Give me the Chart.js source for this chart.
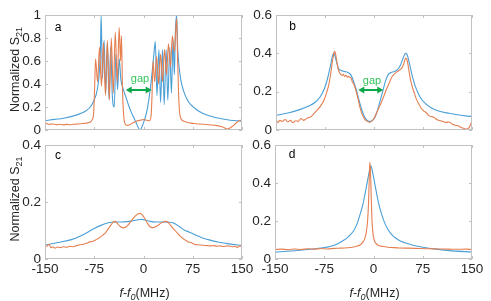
<!DOCTYPE html>
<html>
<head>
<meta charset="utf-8">
<title>Normalized S21</title>
<script src="https://cdn.jsdelivr.net/npm/chart.js@4.4.1/dist/chart.umd.min.js"></script>
<style>
  html, body { margin:0; padding:0; background:#fff; }
  #fig { position:relative; width:491px; height:301px; }
  #fig canvas { position:absolute; left:0; top:0; }
</style>
</head>
<body>
<div id="fig">
  <canvas id="chartA" width="491" height="301"></canvas>
  <canvas id="chartB" width="491" height="301"></canvas>
  <canvas id="chartC" width="491" height="301"></canvas>
  <canvas id="chartD" width="491" height="301"></canvas>
</div>
<script>
"use strict"

// shared axis ticks
const xTicks = [-150, -75, 0, 75, 150]
const xTickLabels = ['-150', '-75', '0', '75', '150']
const yTicksA = [0, 0.2, 0.4, 0.6, 0.8, 1]
const yTicksB = [0, 0.2, 0.4, 0.6]
const yTicksC = [0, 0.2, 0.4]
const yTicksD = [0, 0.2, 0.4, 0.6]

// panel a
const aFreqBlue = [-150,-135,-120,-105,-95,-87,-81,-76,-72,-69,-67,-65.5,-64.5,
  -62.5,-60,-57.5,-55,-52.5,-50,-47.5,-44.5,-42,-39.5,-37,-34.5,
  -31,-27,-23,-19,-15,-11,-7,-5,-3,1,5,9,12,14.5,16.5,18,
  20.5,23.5,26,29,31.5,34.5,37,40,42.5,45,47,48.5,50.5,
  52,54,57,61,66,72,80,90,105,125,150]
const aBlue = [0.082,0.092,0.105,0.125,0.145,0.17,0.2,0.25,0.31,0.4,0.52,0.72,1.0,
  0.45,0.78,0.32,0.76,0.27,0.72,0.3,0.2,0.66,0.35,0.62,0.44,
  0.36,0.29,0.22,0.16,0.11,0.06,0.01,0.0,0.02,0.08,0.16,0.3,0.44,0.58,0.7,0.77,
  0.3,0.7,0.24,0.7,0.22,0.7,0.26,0.72,0.32,0.78,0.48,0.85,1.0,
  0.72,0.56,0.43,0.34,0.27,0.22,0.18,0.145,0.115,0.092,0.075]
const aFreqOrange = [-150,-147,-143,-138,-133,-128,-122,-117,-112,-106,-100,-95,-90,-85,-81,-78,-76,-74.5,-73,
  -70,-67,-64,-61,-58,-55,-52,-49,-46,-43,-40,-37,-35,-33.5,
  -32,-30.5,-29,-27,-24,-20,-15,-10,-5,0,5,9,11.5,13,14.5,
  17,20,23,26,29,32,35,38,41,44,47,50.5,
  52,53.5,55,57,60,65,72,80,90,100,110,118,123,127,131,135,139,143,147,150]
const aOrange = [0.065,0.055,0.05,0.052,0.047,0.05,0.045,0.049,0.046,0.05,0.052,0.055,0.058,0.062,0.07,0.09,0.14,0.35,0.62,
  0.42,0.72,0.38,0.76,0.3,0.78,0.26,0.8,0.32,0.85,0.42,0.89,0.6,0.82,
  0.35,0.15,0.07,0.045,0.04,0.05,0.065,0.078,0.085,0.09,0.085,0.08,0.12,0.3,0.6,
  0.42,0.64,0.4,0.66,0.42,0.7,0.48,0.75,0.55,0.82,0.68,0.97,
  0.6,0.3,0.15,0.1,0.08,0.07,0.06,0.055,0.05,0.045,0.04,0.03,0.02,0.008,0.015,0.03,0.05,0.07,0.085,0.08]

// panel b
const bFreqBlue = [-150,-130,-115,-100,-90,-82,-76,-71,-67,-64,-62,-60,-57,-54,-50,-45,-40,-36,-33,-30,
  -27,-24,-20,-16,-12,-8,-5,-2,2,6,10,14,18,22,26,31,36,40,44,47,
  49,51,54,58,63,70,78,88,100,115,130,150]
const bBlue = [0.076,0.09,0.105,0.125,0.145,0.175,0.215,0.27,0.33,0.38,0.4,0.39,0.35,0.32,0.31,0.305,0.3,0.29,0.27,0.24,
  0.21,0.17,0.12,0.08,0.055,0.045,0.045,0.05,0.07,0.11,0.16,0.21,0.26,0.29,0.3,0.305,0.315,0.335,0.37,0.395,
  0.4,0.39,0.35,0.29,0.23,0.175,0.14,0.115,0.098,0.087,0.078,0.07]
const bFreqOrange = [-150,-147,-144,-140,-136,-132,-128,-124,-120,-116,-112,-108,-104,-100,-96,-92,-88,-84,-80,-76,
  -72,-69,-66,-64,-62,-60.5,-59,-57,-55,-53,-51,-49,-47,-45,-43,-41,-39,-37,-35,-33,
  -31,-28,-25,-22,-18,-14,-10,-7,-4,0,4,8,12,16,20,24,28,32,36,40,
  43,46,48.5,51,53,56,59,62,65,68,72,76,80,84,88,92,96,100,105,110,
  115,120,125,130,134,138,142,145,148,150]
const bOrange = [0.055,0.04,0.05,0.045,0.055,0.042,0.05,0.038,0.048,0.045,0.06,0.05,0.058,0.065,0.07,0.085,0.1,0.115,0.135,0.16,
  0.2,0.24,0.3,0.35,0.39,0.41,0.4,0.36,0.32,0.3,0.29,0.285,0.29,0.28,0.285,0.275,0.28,0.275,0.27,0.25,
  0.24,0.21,0.17,0.125,0.08,0.055,0.045,0.04,0.045,0.06,0.09,0.12,0.15,0.185,0.22,0.25,0.28,0.295,0.305,0.315,
  0.325,0.35,0.375,0.36,0.32,0.26,0.22,0.19,0.16,0.14,0.115,0.1,0.09,0.075,0.07,0.065,0.055,0.05,0.045,0.04,
  0.042,0.03,0.025,0.02,0.012,0.008,0.005,0.01,0.03,0.05]

// panel c
const cFreqBlue = [-150,-130,-110,-95,-85,-75,-65,-55,-45,-35,-25,-15,-8,-3,3,10,20,30,40,48,
  55,62,70,80,90,100,115,130,150]
const cBlue = [0.049,0.058,0.068,0.082,0.094,0.107,0.118,0.126,0.13,0.13,0.131,0.135,0.138,0.139,0.137,0.132,0.13,0.13,0.129,0.124,
  0.113,0.102,0.094,0.083,0.074,0.067,0.059,0.053,0.047]
const cFreqOrange = [-150,-147,-144,-141,-138,-135,-131,-127,-122,-117,-112,-107,-102,-97,-92,-87,-82,-77,-72,-67,
  -62,-58,-54,-50,-46,-43,-40,-36,-32,-28,-24,-20,-16,-12,-8,-5,-2,2,6,10,
  14,18,22,26,30,34,37,40,44,48,52,56,60,64,68,72,77,82,87,92,
  97,102,107,112,117,122,127,132,136,140,143,146,150]
const cOrange = [0.05,0.045,0.052,0.04,0.043,0.038,0.042,0.04,0.043,0.041,0.045,0.043,0.047,0.05,0.052,0.055,0.06,0.062,0.068,0.075,
  0.084,0.092,0.105,0.118,0.13,0.132,0.125,0.115,0.11,0.111,0.118,0.13,0.142,0.152,0.159,0.16,0.155,0.142,0.125,0.113,
  0.11,0.112,0.118,0.125,0.13,0.132,0.13,0.122,0.11,0.1,0.09,0.08,0.072,0.066,0.06,0.058,0.052,0.05,0.049,0.048,
  0.047,0.046,0.047,0.045,0.046,0.044,0.046,0.045,0.043,0.045,0.04,0.046,0.044]

// panel d
const dFreqBlue = [-150,-125,-100,-80,-66,-56,-46,-38,-31,-25,-20,-16,-13,-10,-7,-4,-1,2,5,8,
  12,17,23,30,38,48,60,75,95,120,150]
const dBlue = [0.036,0.042,0.05,0.058,0.066,0.078,0.097,0.118,0.145,0.185,0.24,0.29,0.34,0.395,0.45,0.49,0.45,0.395,0.34,0.29,
  0.24,0.19,0.15,0.12,0.1,0.085,0.072,0.062,0.052,0.043,0.037]
const dFreqOrange = [-150,-140,-130,-120,-110,-100,-90,-80,-70,-60,-50,-40,-32,-25,-20,-16,-13,-11,-9,-7.5,
  -6.5,-5.5,-4.5,-3.5,-2.5,-1,1,3,6,10,15,22,30,40,55,70,85,100,115,130,
  140,150]
const dOrange = [0.05,0.052,0.049,0.053,0.05,0.054,0.052,0.055,0.053,0.056,0.057,0.059,0.062,0.068,0.075,0.09,0.11,0.14,0.2,0.3,
  0.42,0.51,0.46,0.33,0.22,0.14,0.1,0.085,0.075,0.068,0.066,0.062,0.06,0.058,0.057,0.055,0.054,0.053,0.052,0.051,
  0.052,0.05]

const FONT = '"Liberation Sans", Arial, sans-serif'
const TEXT_COLOR = '#262626'
const BOX_COLOR = '#c2c2c2'
const BLUE = '#4a9fd6'
const ORANGE = '#e67f50'
const ARROW_COLOR = '#0fa64a'
const GAP_COLOR = '#35c45c'
const Y_TITLE = 'Normalized S'
const Y_SUB = '21'

function pairs(xs, ys){
    return xs.map((x, i) => ({x: x, y: ys[i]}))
}

// box, inner ticks, labels and annotations in MATLAB style
function framePlugin(p){
    return {
        id: 'frame',
        afterDatasetsDraw(chart){
            const ctx = chart.ctx
            const a = chart.chartArea
            const xs = chart.scales.x, ys = chart.scales.y
            ctx.save()
            ctx.strokeStyle = BOX_COLOR
            ctx.lineWidth = 1
            ctx.strokeRect(a.left + 0.5, a.top + 0.5, a.right - a.left - 1, a.bottom - a.top - 1)
            ctx.beginPath()
            xTicks.forEach(v => {
                const px = Math.round(xs.getPixelForValue(v)) + 0.5
                ctx.moveTo(px, a.bottom); ctx.lineTo(px, a.bottom - 3)
                ctx.moveTo(px, a.top); ctx.lineTo(px, a.top + 3)
            })
            p.yTicks.forEach(v => {
                const py = Math.round(ys.getPixelForValue(v)) + 0.5
                ctx.moveTo(a.left, py); ctx.lineTo(a.left + 3, py)
                ctx.moveTo(a.right, py); ctx.lineTo(a.right - 3, py)
            })
            ctx.stroke()

            // panel letter
            ctx.fillStyle = '#000'
            ctx.font = '12px ' + FONT
            ctx.textAlign = 'center'
            ctx.textBaseline = 'middle'
            ctx.fillText(p.letter, a.left + p.letterDx, a.top + p.letterDy)

            // gap arrow
            if (p.gap) {
                const g = p.gap
                const x1 = xs.getPixelForValue(g.from), x2 = xs.getPixelForValue(g.to)
                const yy = Math.round(ys.getPixelForValue(g.level))
                ctx.strokeStyle = ARROW_COLOR
                ctx.fillStyle = ARROW_COLOR
                ctx.lineWidth = 2
                ctx.beginPath(); ctx.moveTo(x1 + 4, yy); ctx.lineTo(x2 - 4, yy); ctx.stroke()
                ctx.beginPath(); ctx.moveTo(x1, yy); ctx.lineTo(x1 + 6, yy - 3.5); ctx.lineTo(x1 + 6, yy + 3.5); ctx.closePath(); ctx.fill()
                ctx.beginPath(); ctx.moveTo(x2, yy); ctx.lineTo(x2 - 6, yy - 3.5); ctx.lineTo(x2 - 6, yy + 3.5); ctx.closePath(); ctx.fill()
                ctx.fillStyle = GAP_COLOR
                ctx.font = '11px ' + FONT
                ctx.fillText('gap', xs.getPixelForValue(g.textX), ys.getPixelForValue(g.textY))
            }

            // y title with subscript
            if (p.yTitle) {
                ctx.save()
                ctx.translate(19, (a.top + a.bottom) / 2 - 3)
                ctx.rotate(-Math.PI / 2)
                ctx.font = '12.5px ' + FONT
                const w1 = ctx.measureText(Y_TITLE).width
                ctx.font = '9px ' + FONT
                const w2 = ctx.measureText(Y_SUB).width
                const x0 = -(w1 + w2) / 2
                ctx.fillStyle = TEXT_COLOR
                ctx.textAlign = 'left'
                ctx.textBaseline = 'alphabetic'
                ctx.font = '12.5px ' + FONT
                ctx.fillText(Y_TITLE, x0, 0)
                ctx.font = '9px ' + FONT
                ctx.fillText(Y_SUB, x0 + w1, 3)
                ctx.restore()
            }

            // x title f-f0(MHz)
            if (p.xTitle) {
                const parts = [
                    {t: 'f', f: 'italic 12.5px ', dy: 0},
                    {t: '-', f: '12.5px ', dy: 0},
                    {t: 'f', f: 'italic 12.5px ', dy: 0},
                    {t: '0', f: 'italic 9px ', dy: 3},
                    {t: '(MHz)', f: '12.5px ', dy: 0}
                ]
                let total = 0
                parts.forEach(q => { ctx.font = q.f + FONT; q.w = ctx.measureText(q.t).width; total += q.w })
                let cx = (a.left + a.right) / 2 + 1 - total / 2
                ctx.fillStyle = TEXT_COLOR
                ctx.textAlign = 'left'
                ctx.textBaseline = 'alphabetic'
                parts.forEach(q => {
                    ctx.font = q.f + FONT
                    ctx.fillText(q.t, cx, 297 + q.dy)
                    cx += q.w
                })
            }
            ctx.restore()
        }
    }
}

function drawPanel(id, box, p){
    const ctx = document.getElementById(id)
    const xHeight = p.showX ? 20 : 0
    return new Chart(ctx, {
        type: 'line',
        data: {
            datasets: [
                {label: 'experiment', data: pairs(p.fo, p.o), borderColor: ORANGE},
                {label: 'simulation', data: pairs(p.fb, p.b), borderColor: BLUE}
            ]
        },
        options: {
            responsive: false,
            animation: false,
            devicePixelRatio: 1,
            layout: {padding: {left: box.left - 40, top: box.top, right: 491 - box.right, bottom: 301 - box.bottom - xHeight}},
            elements: {
                point: {radius: 0},
                line: {borderWidth: 1.1, cubicInterpolationMode: 'monotone', fill: false}
            },
            plugins: {legend: {display: false}, tooltip: {enabled: false}},
            scales: {
                x: {
                    type: 'linear', min: -150, max: 150,
                    afterBuildTicks: s => { s.ticks = xTicks.map(v => ({value: v})) },
                    afterFit: s => { s.height = xHeight },
                    grid: {display: false, drawTicks: false}, border: {display: false},
                    ticks: {display: p.showX, padding: 2, color: TEXT_COLOR, autoSkip: false, maxRotation: 0,
                        font: {family: FONT, size: 13.5},
                        callback: (v, i) => xTickLabels[i]}
                },
                y: {
                    type: 'linear', min: 0, max: p.yTicks[p.yTicks.length - 1],
                    afterBuildTicks: s => { s.ticks = p.yTicks.map(v => ({value: v})) },
                    afterFit: s => { s.width = 40 },
                    grid: {display: false, drawTicks: false}, border: {display: false},
                    ticks: {padding: 4, color: TEXT_COLOR, font: {family: FONT, size: 13.5},
                        callback: v => String(v)}
                }
            }
        },
        plugins: [framePlugin(p)]
    })
}

drawPanel('chartA', {left: 45, top: 15, right: 242, bottom: 130}, {
    fb: aFreqBlue, b: aBlue, fo: aFreqOrange, o: aOrange, yTicks: yTicksA,
    letter: 'a', letterDx: 13, letterDy: 12.5, yTitle: true, showX: false,
    gap: {from: -27, to: 12.5, level: 0.351, textX: -5.3, textY: 0.44}
})
drawPanel('chartB', {left: 276, top: 15, right: 472, bottom: 130}, {
    fb: bFreqBlue, b: bBlue, fo: bFreqOrange, o: bOrange, yTicks: yTicksB,
    letter: 'b', letterDx: 16.5, letterDy: 12, showX: false,
    gap: {from: -24, to: 14.2, level: 0.207, textX: -3, textY: 0.257}
})
drawPanel('chartC', {left: 45, top: 145, right: 242, bottom: 259}, {
    fb: cFreqBlue, b: cBlue, fo: cFreqOrange, o: cOrange, yTicks: yTicksC,
    letter: 'c', letterDx: 13, letterDy: 11, yTitle: true, xTitle: true, showX: true
})
drawPanel('chartD', {left: 275, top: 145, right: 472, bottom: 259}, {
    fb: dFreqBlue, b: dBlue, fo: dFreqOrange, o: dOrange, yTicks: yTicksD,
    letter: 'd', letterDx: 17, letterDy: 10, xTitle: true, showX: true
})
</script>
</body>
</html>
